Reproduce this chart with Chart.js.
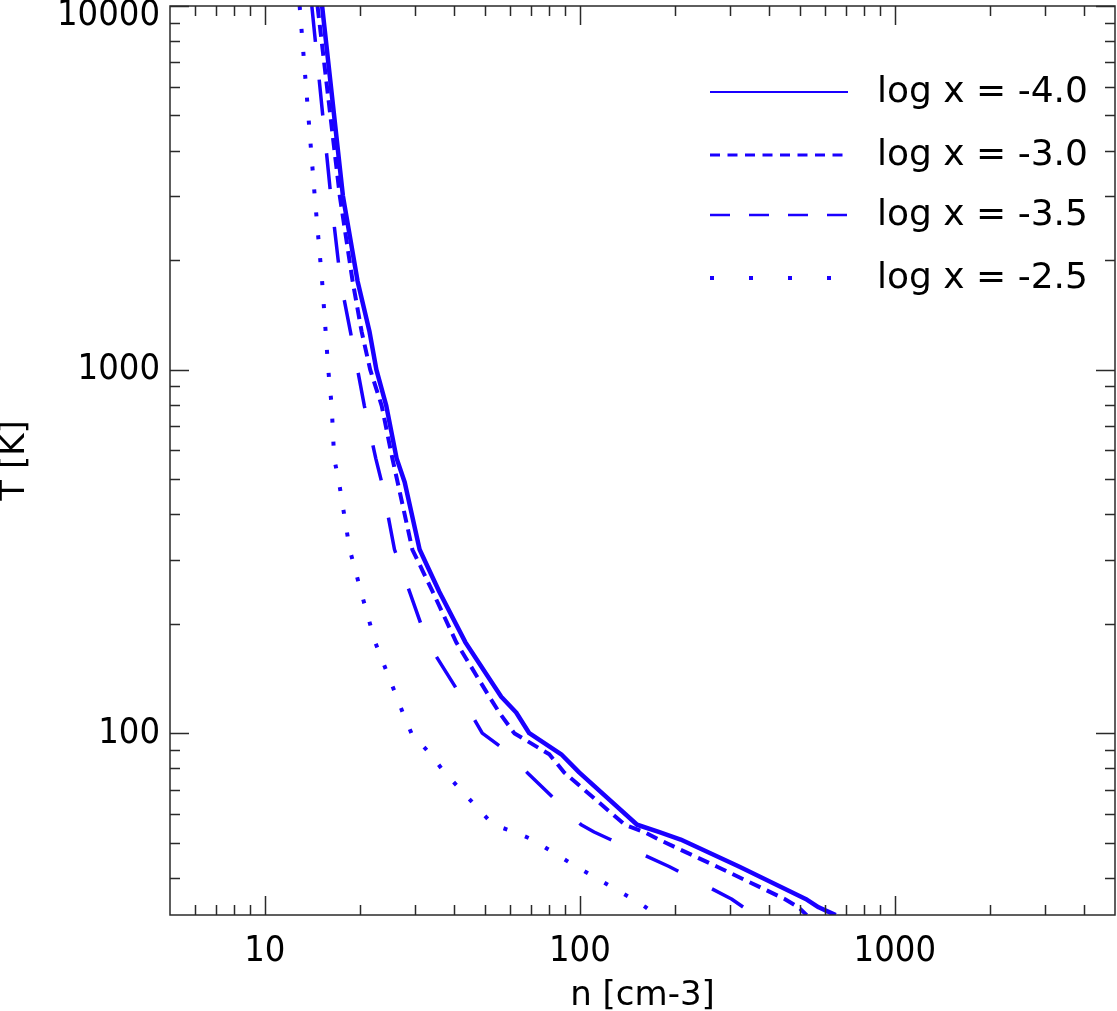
<!DOCTYPE html>
<html>
<head>
<meta charset="utf-8">
<script src="https://cdn.jsdelivr.net/npm/chart.js@4"></script>
<style>
  body { margin: 0; background: #fff; }
  #wrap { width: 1117px; height: 1011px; }
</style>
</head>
<body>
<div id="wrap"><canvas id="chart"></canvas></div>
<script>
// temperature grid shared by all curves (K)
const temps = [10000, 3000, 1750, 1270, 1000, 795, 570, 490, 320, 245, 178, 126, 114, 100, 87.5, 78, 56, 53.5, 51, 43, 35, 33.2, 31.6];

// density n [cm-3] for each abundance
const nLog40 = [15.2, 17.7, 19.7, 21.5, 22.6, 24.3, 26.2, 27.8, 31.0, 35.8, 43.3, 56.3, 62.8, 69.1, 87.3, 99.5, 152, 178, 209, 320, 521, 573, 649];
const nLog30 = [14.7, 17.3, 19.0, 20.3, 21.6, 23.5, 25.4, 26.4, 29.4, 34.1, 40.5, 51.6, 55.5, 61.9, 80.0, 89.2, 139, 160, 178, 272, 447, 495, 525];
const nLog35 = [14.1, 16.2, 17.4, 18.7, 19.7, 20.7, 22.5, 23.5, 25.8, 28.8, 32.8, 42.1, 44.9, 49.0, 60.5, 68.0, 101, 111, 125, 192, 303, 331, 364];
const nLog25 = [12.9, 14.4, 15.2, 15.6, 15.9, 16.3, 16.6, 17.2, 18.6, 20.2, 22.4, 26.2, 27.4, 29.2, 33.6, 37.2, 53.1, 62, 70.6, 97.3, 147, 162, 175];

const seriesLabels = ["log x = -4.0", "log x = -3.0", "log x = -3.5", "log x = -2.5"];
const xTicks = [10, 100, 1000];
const yTicks = [100, 1000, 10000];

const blue = "#1a00ff";
const axisColor = "#2a2a2a";
const tickFamily = "'DejaVu Sans Condensed', 'DejaVu Sans', sans-serif";
const textFamily = "'DejaVu Sans', sans-serif";

// line styles: plot and legend
const plotStyles = [
  { width: 4.5, dash: [] },
  { width: 4, dash: [12, 7] },
  { width: 3.5, dash: [36, 38] },
  { width: 4, dash: [4, 19] },
];
const legendStyles = [
  { width: 2, dash: [] },
  { width: 3, dash: [10, 7.5] },
  { width: 2.5, dash: [20, 19] },
  { width: 4, dash: [4, 35] },
];

function toPoints(ns) {
  return ns.map((n, i) => ({ x: n, y: temps[i] }));
}

const allSeries = [nLog40, nLog30, nLog35, nLog25];

const datasets = allSeries.map((ns, i) => ({
  label: seriesLabels[i],
  data: toPoints(ns),
  borderColor: blue,
  borderWidth: plotStyles[i].width,
  borderDash: plotStyles[i].dash,
  borderCapStyle: "butt",
  borderJoinStyle: "round",
  pointRadius: 0,
  tension: 0,
  fill: false,
}));

function minorValues(min, max) {
  const out = [];
  for (let d = 1; d <= 10000; d *= 10) {
    for (let k = 2; k <= 9; k++) {
      const v = k * d;
      if (v > min && v < max) out.push(v);
    }
  }
  return out;
}

// ticks pointing inward on all four sides, plus the frame
const tickMarks = {
  id: "tickMarks",
  afterDraw(chart) {
    const { ctx, chartArea: a, scales } = chart;
    const x = scales.x, y = scales.y;
    const major = 19, minor = 10;
    ctx.save();
    ctx.strokeStyle = axisColor;
    ctx.lineWidth = 1.5;
    ctx.beginPath();
    function seg(x1, y1, x2, y2) { ctx.moveTo(x1, y1); ctx.lineTo(x2, y2); }
    xTicks.forEach(v => {
      const px = Math.round(x.getPixelForValue(v)) + 0.5;
      seg(px, a.bottom, px, a.bottom - major);
      seg(px, a.top, px, a.top + major);
    });
    minorValues(x.min, x.max).forEach(v => {
      const px = Math.round(x.getPixelForValue(v)) + 0.5;
      seg(px, a.bottom, px, a.bottom - minor);
      seg(px, a.top, px, a.top + minor);
    });
    yTicks.forEach(v => {
      const py = Math.round(y.getPixelForValue(v)) + 0.5;
      seg(a.left, py, a.left + major, py);
      seg(a.right, py, a.right - major, py);
    });
    minorValues(y.min, y.max).forEach(v => {
      const py = Math.round(y.getPixelForValue(v)) + 0.5;
      seg(a.left, py, a.left + minor, py);
      seg(a.right, py, a.right - minor, py);
    });
    ctx.stroke();
    ctx.strokeRect(a.left, a.top, a.width, a.height);
    ctx.restore();
  },
};

// legend inside the plot, top right
const insideLegend = {
  id: "insideLegend",
  afterDraw(chart) {
    const { ctx } = chart;
    const x0 = 710, x1 = 848, textX = 877;
    const rows = [92, 155, 215, 278];
    ctx.save();
    chart.data.datasets.forEach((ds, i) => {
      const ly = rows[i];
      ctx.strokeStyle = ds.borderColor;
      ctx.lineWidth = legendStyles[i].width;
      ctx.setLineDash(legendStyles[i].dash);
      ctx.lineCap = "butt";
      ctx.beginPath();
      ctx.moveTo(x0, ly);
      ctx.lineTo(x1, ly);
      ctx.stroke();
      ctx.setLineDash([]);
      ctx.fillStyle = "#000";
      ctx.font = "36px " + textFamily;
      ctx.textBaseline = "middle";
      ctx.textAlign = "left";
      ctx.fillText(ds.label, textX, ly + 1);
    });
    ctx.restore();
  },
};

new Chart(document.getElementById("chart"), {
  type: "line",
  data: { datasets },
  plugins: [tickMarks, insideLegend],
  options: {
    responsive: true,
    maintainAspectRatio: false,
    animation: false,
    layout: { padding: { top: 6, right: 2, left: 0, bottom: 0 } },
    plugins: { legend: { display: false }, tooltip: { enabled: false } },
    scales: {
      x: {
        type: "logarithmic",
        min: 5,
        max: 5000,
        grid: { display: false, drawTicks: false },
        border: { display: false },
        afterBuildTicks: (scale) => { scale.ticks = xTicks.map(v => ({ value: v })); },
        afterFit: (scale) => {
          scale.height = 96;
          scale.paddingLeft = 0;
          scale.paddingRight = 0;
        },
        ticks: {
          autoSkip: false,
          maxRotation: 0,
          padding: 15,
          color: "#000",
          font: { family: tickFamily, size: 36 },
          callback: (v) => String(v),
        },
        title: {
          display: true,
          text: "n [cm-3]",
          color: "#000",
          font: { family: textFamily, size: 34, lineHeight: 0.88 },
          padding: { top: 0, bottom: 0 },
        },
      },
      y: {
        type: "logarithmic",
        min: Math.pow(10, 1.5),
        max: 10000,
        grid: { display: false, drawTicks: false },
        border: { display: false },
        afterBuildTicks: (scale) => { scale.ticks = yTicks.map(v => ({ value: v })); },
        afterFit: (scale) => {
          scale.width = 170;
          scale.paddingTop = 0;
          scale.paddingBottom = 0;
        },
        ticks: {
          autoSkip: false,
          padding: 10,
          color: "#000",
          font: { family: tickFamily, size: 36, lineHeight: 0.56 },
          callback: (v) => (v === 10000 ? ["", "10000"] : String(v)),
        },
        title: {
          display: true,
          text: "T [K]",
          color: "#000",
          font: { family: textFamily, size: 34, lineHeight: 0.9 },
          padding: { top: 0, bottom: 0 },
        },
      },
    },
  },
});
</script>
</body>
</html>
